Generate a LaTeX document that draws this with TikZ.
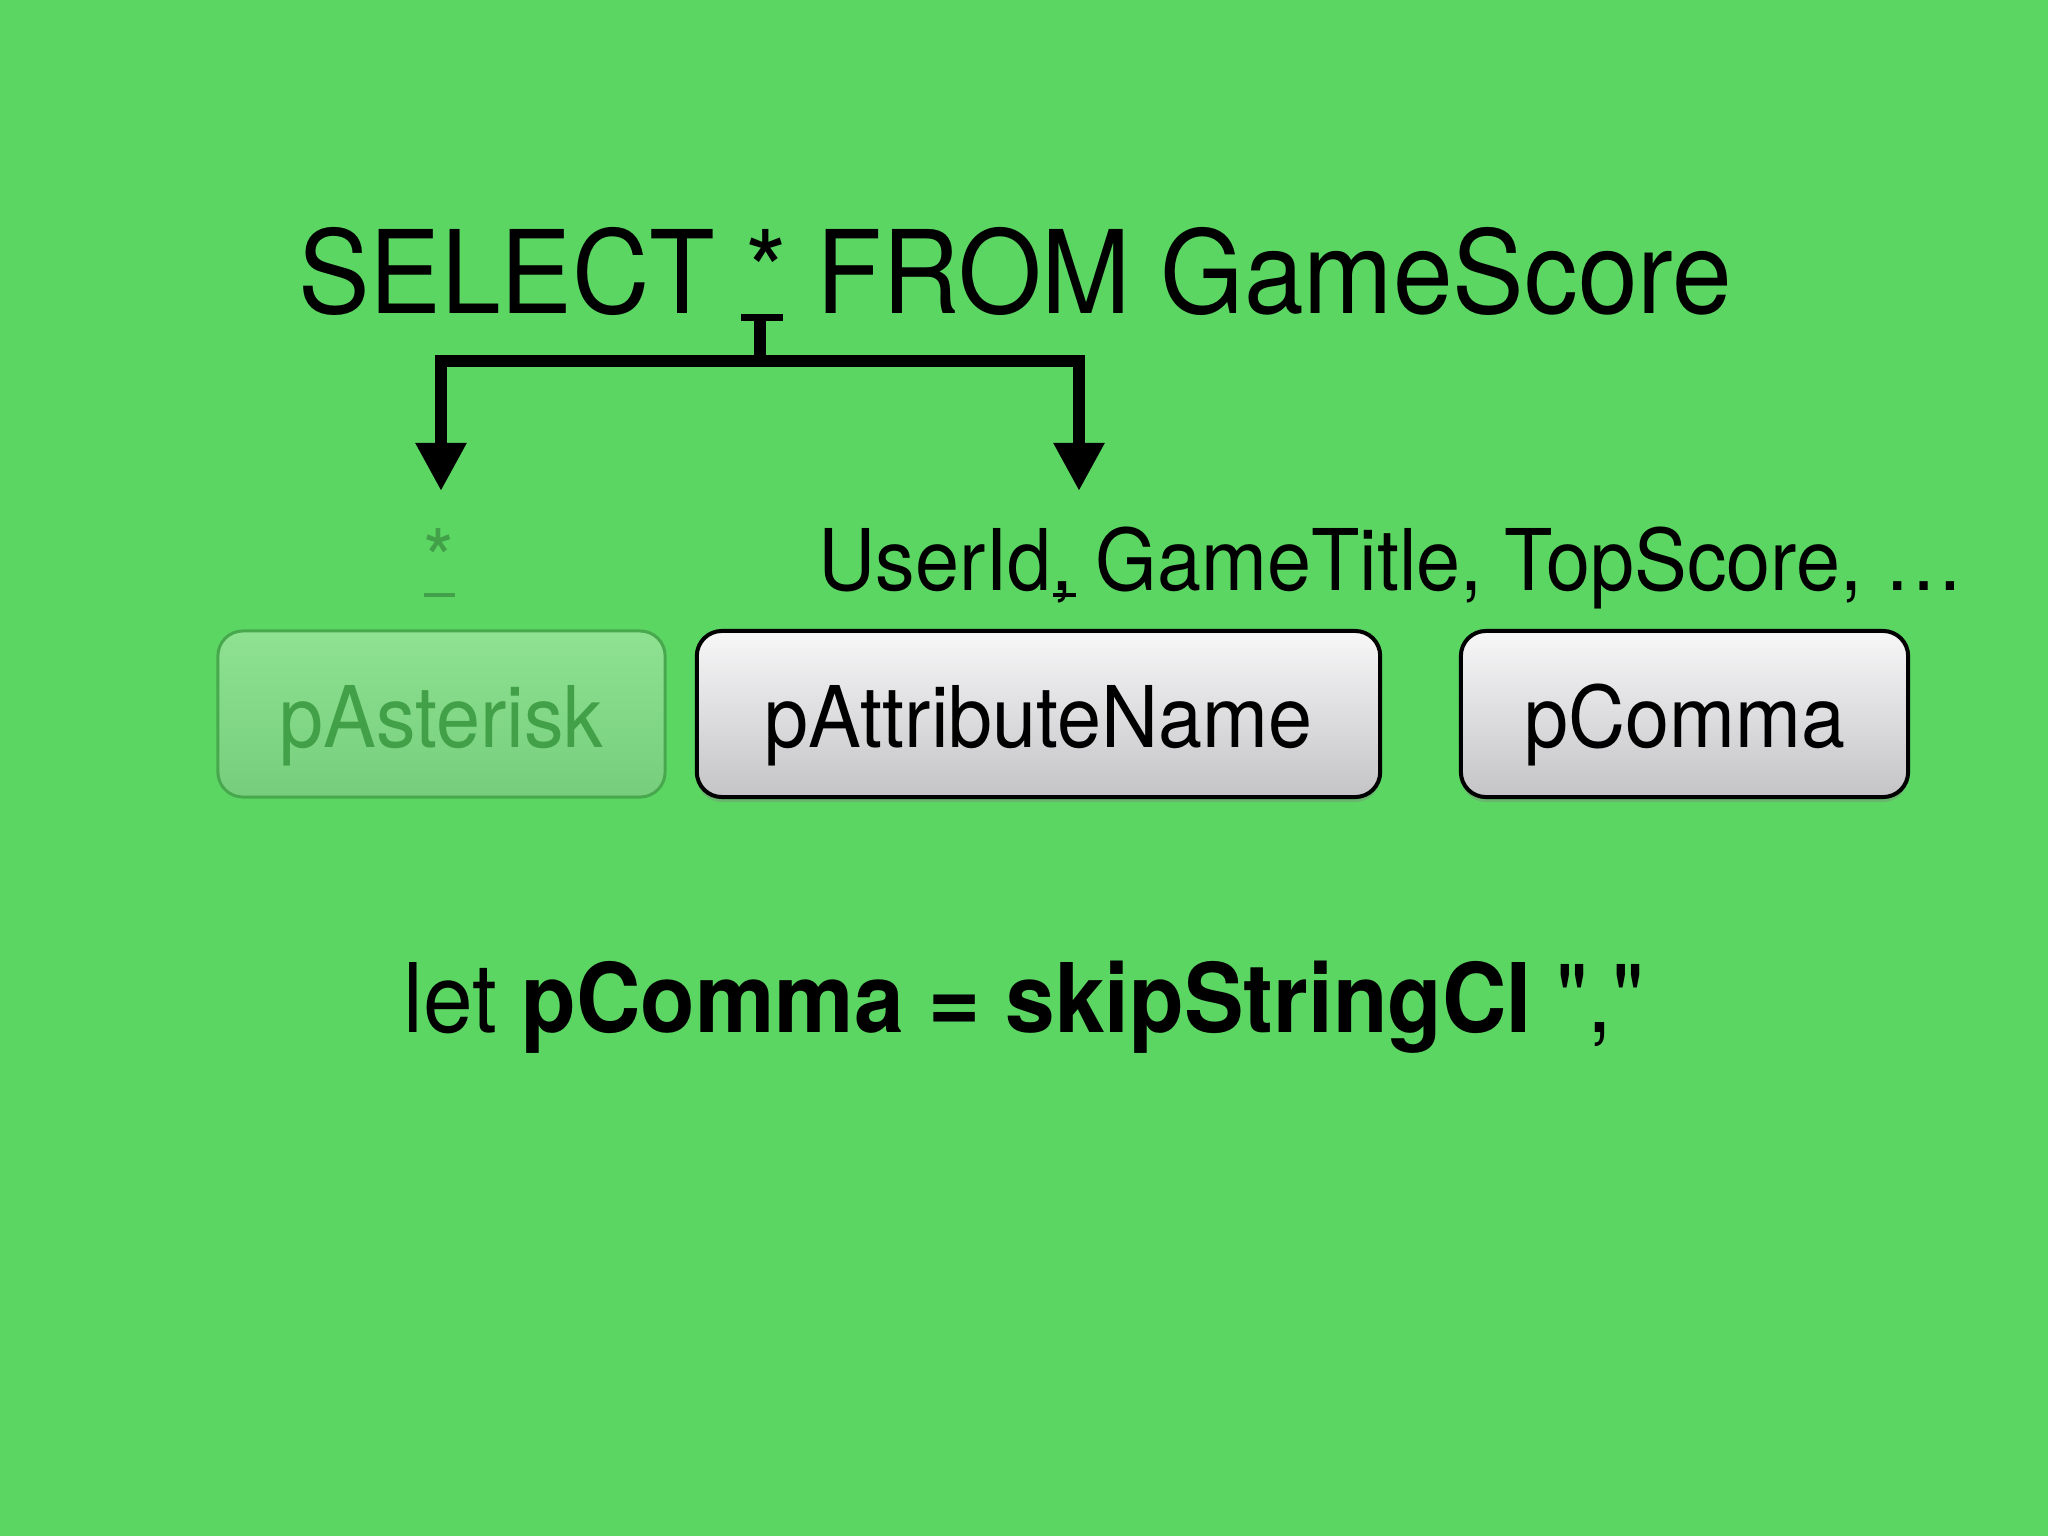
\documentclass[tikz,border=0pt]{standalone}
\usepackage{fontspec}
\setmainfont{TeX Gyre Heros}[FakeStretch=0.93]
\newfontfamily\plainq{TeX Gyre Heros}[FakeStretch=0.93]
\usetikzlibrary{arrows.meta,shadows}
\definecolor{bg}{RGB}{92,214,99}
\definecolor{dkgreen}{RGB}{66,160,72}
\definecolor{ltop}{RGB}{142,226,145}
\definecolor{lbot}{RGB}{118,206,124}
\definecolor{ldraw}{RGB}{72,168,78}
\definecolor{gtop}{RGB}{247,247,248}
\definecolor{gbot}{RGB}{196,196,199}
\tikzset{
  txt/.style={inner sep=0pt, anchor=base},
  pbox/.style={rectangle, rounded corners=0.25cm, minimum width=4.47cm, minimum height=1.66cm,
    inner sep=0pt, text height=0.66cm, text depth=0cm, font=\fontsize{24.2}{29}\selectfont},
  gbox/.style={pbox, draw=black, line width=0.04cm, top color=gtop, bottom color=gbot,
    drop shadow={opacity=0.35, shadow xshift=0cm, shadow yshift=-0.05cm}},
  lbox/.style={pbox, draw=ldraw, line width=0.03cm, top color=ltop, bottom color=lbot, text=dkgreen},
  bracket/.style={line width=0.115cm, draw=black},
  tip/.style={-{Triangle[width=0.48cm,length=0.48cm]}}
}
\begin{document}
\begin{tikzpicture}[x=0.01cm,y=-0.01cm]
\fill[bg] (0,0) rectangle (2048,1536);
\useasboundingbox (0,0) rectangle (2048,1536);

\node[txt, font=\fontsize{32.8}{39}\selectfont] (title) at (1015,313) {SELECT * FROM GameScore};

% marker under the title asterisk
\draw[line width=0.07cm] (741,317.5) -- (783,317.5);
\coordinate (starmark) at (760,321);
\coordinate (split) at (760,361);
\coordinate (tipL) at (441,491);
\coordinate (tipR) at (1079,491);
\draw[bracket] (starmark) -- (split);
\draw[bracket, tip] (split) -| (tipL);
\draw[bracket, tip] (split) -| (tipR);

% tokens
\node[txt, text=dkgreen, font=\fontsize{24.2}{29}\selectfont] (star) at (439,590) {*};
\draw[dkgreen, line width=0.035cm] (424,595) -- (455,595);
\node[txt, font=\fontsize{24.2}{29}\selectfont] (attrs) at (1391,590) {UserId, GameTitle, TopScore, …};
\draw[line width=0.04cm] (1053,595) -- (1076,595);
\draw[line width=0.03cm] (1064,582) -- (1064,595);

% parser boxes
\node[lbox] (pAsterisk) at (441.5,714) {pAsterisk};
\node[gbox, minimum width=6.83cm] (pAttr) at (1038.5,714) {pAttributeName};
\node[gbox] (pComma) at (1684.5,714) {pComma};

% code line
\node[txt, font=\fontsize{27.3}{32}\selectfont] (code) at (1024,1032) {let \textbf{pComma = skipStringCI} {\plainq ","}};
\end{tikzpicture}
\end{document}
